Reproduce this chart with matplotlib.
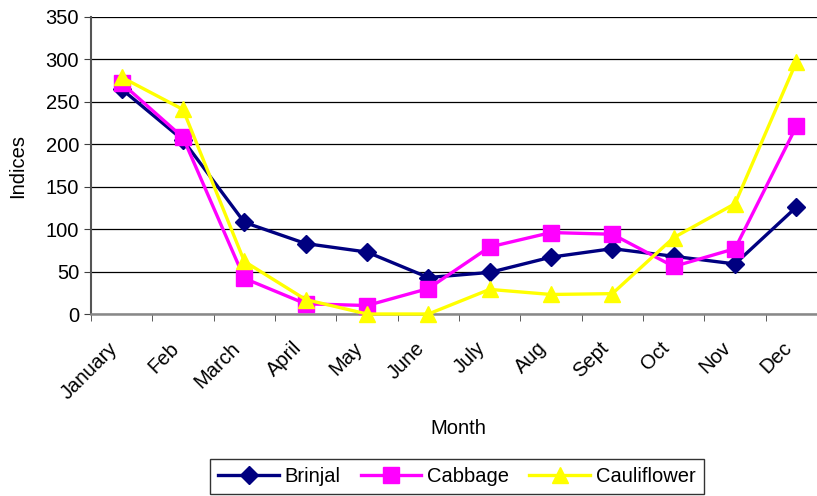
import numpy as np
import matplotlib.pyplot as plt
import matplotlib.transforms as mtransforms

# Monthly indices
months = ['January', 'Feb', 'March', 'April', 'May', 'June',
          'July', 'Aug', 'Sept', 'Oct', 'Nov', 'Dec']
brinjal = [265, 205, 108, 83, 73, 43, 49, 67, 77, 68, 59, 126]
cabbage = [272, 208, 42, 12, 10, 30, 79, 96, 94, 56, 77, 221]
cauliflower = [279, 241, 62, 17, 0, 0, 29, 23, 24, 90, 130, 297]
yticks = [0, 50, 100, 150, 200, 250, 300, 350]

plt.rcParams['font.family'] = ['Liberation Sans', 'DejaVu Sans']
fs = 14.5

fig = plt.figure(figsize=(8.17, 4.96), dpi=100)
ax = fig.add_axes([91 / 817, 1 - 314 / 496, 736 / 817, 297 / 496])

x = np.arange(len(months))
ax.plot(x, brinjal, color='#000080', lw=2.4, marker='D', ms=9,
        label='Brinjal', clip_on=False, zorder=3)
ax.plot(x, cabbage, color='#FF00FF', lw=2.4, marker='s', ms=11,
        label='Cabbage', clip_on=False, zorder=4)
ax.plot(x, cauliflower, color='#FFFF00', lw=2.4, marker='^', ms=12,
        label='Cauliflower', clip_on=False, zorder=5)

ax.set_xlim(-0.5, len(months) - 0.5)
ax.set_ylim(0, 350)
ax.set_yticks(yticks)
ax.set_xticks(x)
ax.set_xticklabels(months, rotation=45, ha='right', va='center',
                   rotation_mode='anchor')
ax.set_xticks(np.arange(-0.5, len(months) + 0.5, 1), minor=True)
ax.tick_params(axis='x', which='major', length=0, pad=16, labelsize=fs)
ax.tick_params(axis='x', which='minor', length=5, direction='out', color='#404040')
ax.tick_params(axis='y', length=5, direction='out', labelsize=fs, color='#404040')

# nudge month labels down-left to sit like the original
shift = mtransforms.ScaledTranslation(-7 / 100, -9 / 100, fig.dpi_scale_trans)
for lbl in ax.get_xticklabels():
    lbl.set_transform(lbl.get_transform() + shift)

ax.grid(axis='y', color='black', lw=0.9)
ax.set_axisbelow(True)
for side in ['top', 'right']:
    ax.spines[side].set_visible(False)
ax.spines['left'].set_color('#555555')
ax.spines['left'].set_linewidth(1.5)
ax.spines['bottom'].set_color('#888888')
ax.spines['bottom'].set_linewidth(1.8)

ax.set_ylabel('Indices', fontsize=fs)
ax.yaxis.set_label_coords(-(91 - 27) / 736, 0.5)
fig.text(458 / 817, 1 - 428 / 496, 'Month', fontsize=fs, ha='center', va='center')

leg = fig.legend(loc='upper center', bbox_to_anchor=(457 / 817, 1 - 459 / 496),
                 ncol=3, frameon=True, fancybox=False, edgecolor='black',
                 fontsize=fs, handlelength=3, columnspacing=1.0,
                 handletextpad=0.3, borderaxespad=0)
leg.get_frame().set_linewidth(1.0)

fig.savefig('out.png', dpi=100)
